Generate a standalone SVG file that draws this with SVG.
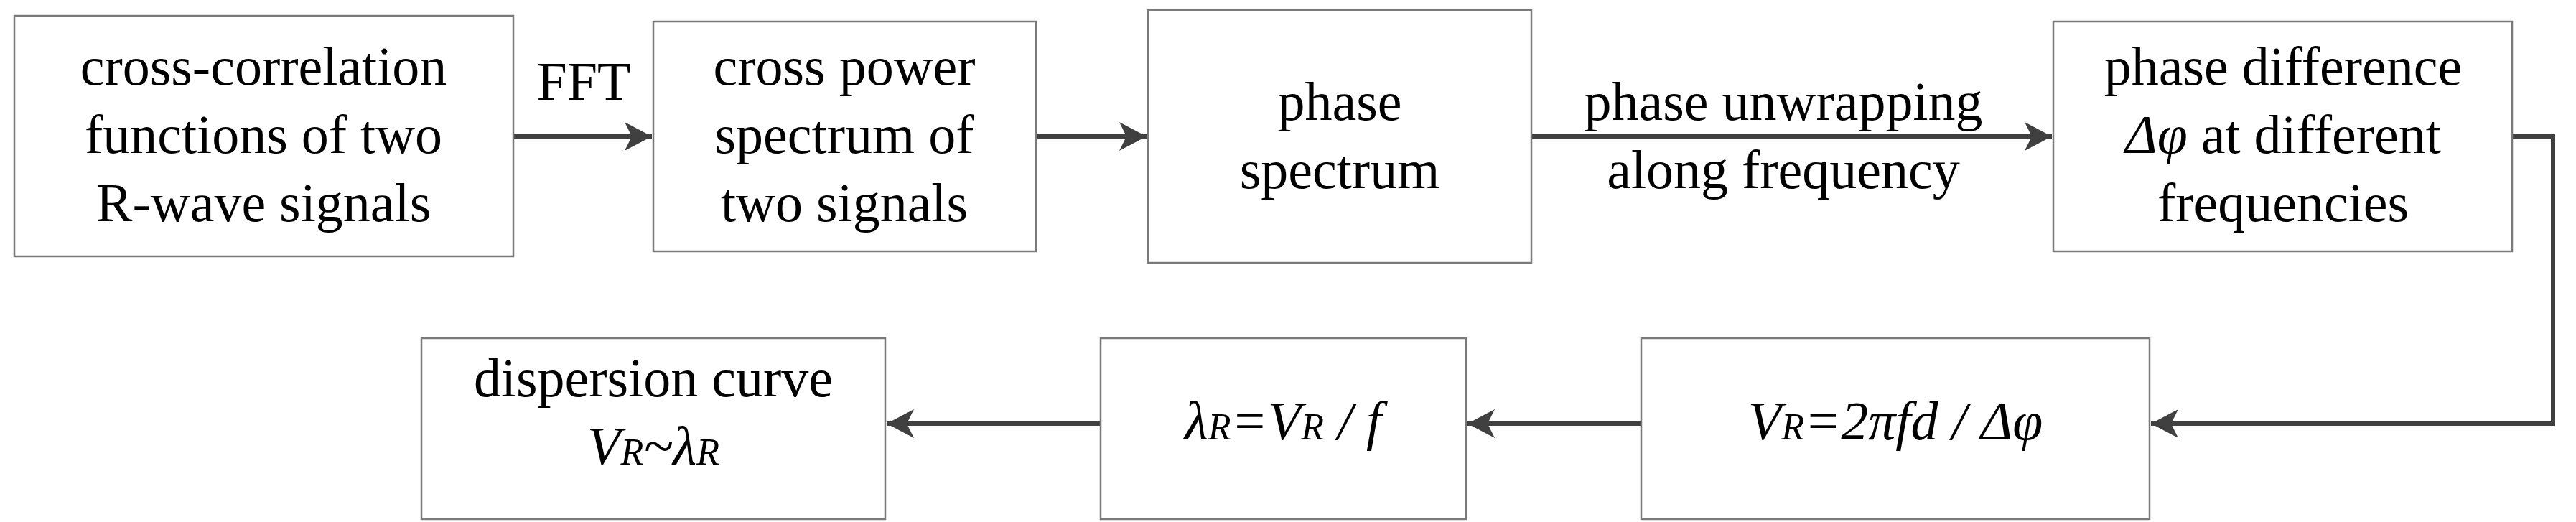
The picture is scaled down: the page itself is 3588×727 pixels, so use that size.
<svg xmlns="http://www.w3.org/2000/svg" width="3588" height="727" viewBox="0 0 3588 727">
<style>
.b{fill:#fff;stroke:#7a7a7a;stroke-width:2.5}
text{font-family:"Liberation Serif","Times New Roman",serif;font-size:76px;fill:#000;text-anchor:middle}
.i{font-style:italic}
.s{font-size:52px;font-style:italic}
.c{fill:none;stroke:#404040;stroke-width:6}
</style>
<defs><marker id="a" markerUnits="userSpaceOnUse" markerWidth="40" markerHeight="40" refX="38" refY="20" orient="auto"><path d="M0,0 L38,20 L0,40 L10,20 Z" fill="#404040"/></marker></defs>
<g id="connectors">
<path class="c" marker-end="url(#a)" d="M715,190 H908"/>
<path class="c" marker-end="url(#a)" d="M1443,190 H1597"/>
<path class="c" marker-end="url(#a)" d="M2133,190 H2858"/>
<path class="c" marker-end="url(#a)" d="M3499,190 H3556 V590 H2996"/>
<path class="c" marker-end="url(#a)" d="M2286,590 H2044"/>
<path class="c" marker-end="url(#a)" d="M1533,590 H1235"/>
<text x="813" y="139">FFT</text>
<text x="2484" y="167">phase unwrapping</text>
<text x="2484" y="262">along frequency</text>
</g>
<g id="n1"><rect class="b" x="20" y="22" width="695" height="335"/>
<text x="367" y="118">cross-correlation</text><text x="367" y="213">functions of two</text><text x="367" y="308">R-wave signals</text></g>
<g id="n2"><rect class="b" x="910" y="30" width="533" height="320"/>
<text x="1176" y="118">cross power</text><text x="1176" y="213">spectrum of</text><text x="1176" y="308">two signals</text></g>
<g id="n3"><rect class="b" x="1599" y="14" width="534" height="352"/>
<text x="1866" y="167">phase</text><text x="1866" y="262">spectrum</text></g>
<g id="n4"><rect class="b" x="2860" y="30" width="639" height="320"/>
<text x="3180" y="118">phase difference</text><text x="3180" y="213"><tspan class="i">Δφ</tspan> at different</text><text x="3180" y="308">frequencies</text></g>
<g id="n5"><rect class="b" x="2286" y="471" width="708" height="252"/>
<text x="2640" y="612" class="i">V<tspan class="s">R</tspan>=2πfd / Δφ</text></g>
<g id="n6"><rect class="b" x="1533" y="471" width="509" height="252"/>
<text x="1787" y="612" class="i">λ<tspan class="s">R</tspan>=V<tspan class="s">R</tspan> / f</text></g>
<g id="n7"><rect class="b" x="587" y="471" width="646" height="252"/>
<text x="910" y="552">dispersion curve</text><text x="910" y="647" class="i">V<tspan class="s">R</tspan>~λ<tspan class="s">R</tspan></text></g>
</svg>
